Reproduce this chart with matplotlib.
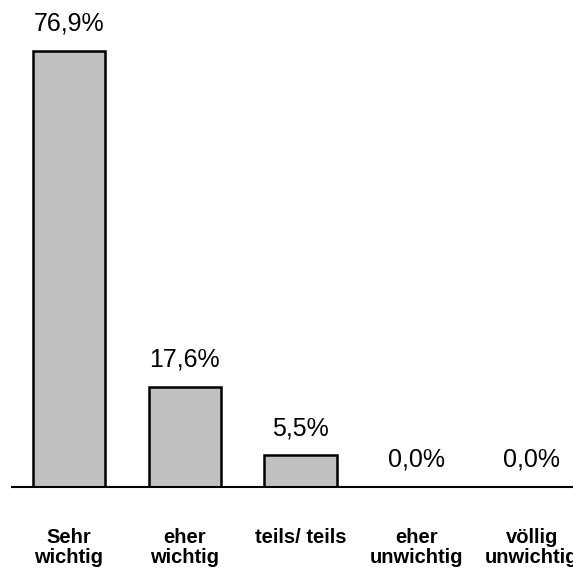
import matplotlib
matplotlib.use("Agg")
import matplotlib.pyplot as plt
from matplotlib.transforms import blended_transform_factory

categories = ["Sehr\nwichtig", "eher\nwichtig", "teils/ teils", "eher\nunwichtig", "völlig\nunwichtig"]
values = [76.9, 17.6, 5.5, 0.0, 0.0]
value_labels = ["76,9%", "17,6%", "5,5%", "0,0%", "0,0%"]

plt.rcParams['font.family'] = ['Liberation Sans', 'DejaVu Sans']

W, H = 573, 570
DPI = 100
PT = 72 / DPI  # points per pixel
fig = plt.figure(figsize=(W / DPI, H / DPI), dpi=DPI)
base_y = 486.5
ax = fig.add_axes([12 / W, (H - base_y) / H, 1 - 12 / W, base_y / H])

x = list(range(len(categories)))
ax.bar(x, values, width=0.625, color='#c0c0c0', edgecolor='black', linewidth=1.8, zorder=2)
ax.set_xlim(-0.493, 4.356)
ax.set_ylim(0, 76.9 * base_y / 435.5)

for xi, v, lab in zip(x, values, value_labels):
    ax.annotate(lab, (xi, v), xytext=(0, 20 * PT), textcoords='offset points',
                ha='center', va='baseline', fontsize=18)

trans = blended_transform_factory(ax.transData, ax.transAxes)
for xi, c in zip(x, categories):
    for li, line in enumerate(c.split("\n")):
        ax.annotate(line, (xi, 0), xycoords=trans,
                    xytext=(0, -(56.5 + 20 * li) * PT), textcoords='offset points',
                    ha='center', va='baseline', fontsize=14.5, fontweight='bold',
                    annotation_clip=False)

for s in ['top', 'right', 'left']:
    ax.spines[s].set_visible(False)
ax.spines['bottom'].set_linewidth(1.5)
ax.set_xticks([])
ax.set_yticks([])
ax.patch.set_alpha(0)

fig.savefig("out.png", dpi=DPI)
